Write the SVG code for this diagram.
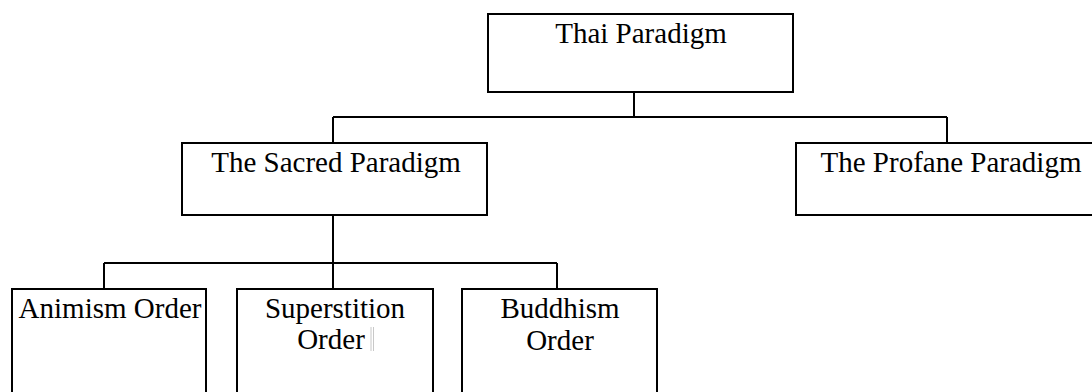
<svg xmlns="http://www.w3.org/2000/svg" width="1092" height="392" viewBox="0 0 1092 392">
  <style>
    .box { fill: #ffffff; stroke: #000000; stroke-width: 2; }
    .lbl { font-family: "Liberation Serif", "Times New Roman", serif; font-size: 29px; fill: #000000; text-anchor: middle; }
    .wire { fill: none; stroke: #000000; stroke-width: 2; }
  </style>
  <rect width="1092" height="392" fill="#ffffff"/>

  <!-- tree connectors -->
  <g id="connectors">
    <path class="wire" d="M634 92 V117 M333 117 H947 M333 117 V143 M947 117 V143"/>
    <path class="wire" d="M333 215 V263 M104 263 H557 M104 263 V289 M333 263 V289 M557 263 V289"/>
  </g>

  <g id="thai-paradigm">
    <rect class="box" x="488" y="14" width="305" height="78"/>
    <text class="lbl" x="641" y="43">Thai Paradigm</text>
  </g>

  <g id="sacred-paradigm">
    <rect class="box" x="182" y="143" width="305" height="72"/>
    <text class="lbl" x="336" y="172">The Sacred Paradigm</text>
  </g>

  <g id="profane-paradigm">
    <rect class="box" x="796" y="143" width="310" height="72"/>
    <text class="lbl" x="951" y="172">The Profane Paradigm</text>
  </g>

  <g id="animism-order">
    <rect class="box" x="12" y="289" width="194" height="120"/>
    <text class="lbl" x="110" y="318">Animism Order</text>
  </g>

  <g id="superstition-order">
    <rect class="box" x="237" y="289" width="196" height="120"/>
    <text class="lbl" x="335" y="318">Superstition</text>
    <text class="lbl" x="331" y="349">Order</text>
    <!-- faint caret marks after the second line -->
    <path d="M371 327 V351 M373.5 327 V351" stroke="#c8c8c8" stroke-width="1"/>
  </g>

  <g id="buddhism-order">
    <rect class="box" x="462" y="289" width="195" height="120"/>
    <text class="lbl" x="560" y="318">Buddhism</text>
    <text class="lbl" x="560" y="350">Order</text>
  </g>
</svg>
